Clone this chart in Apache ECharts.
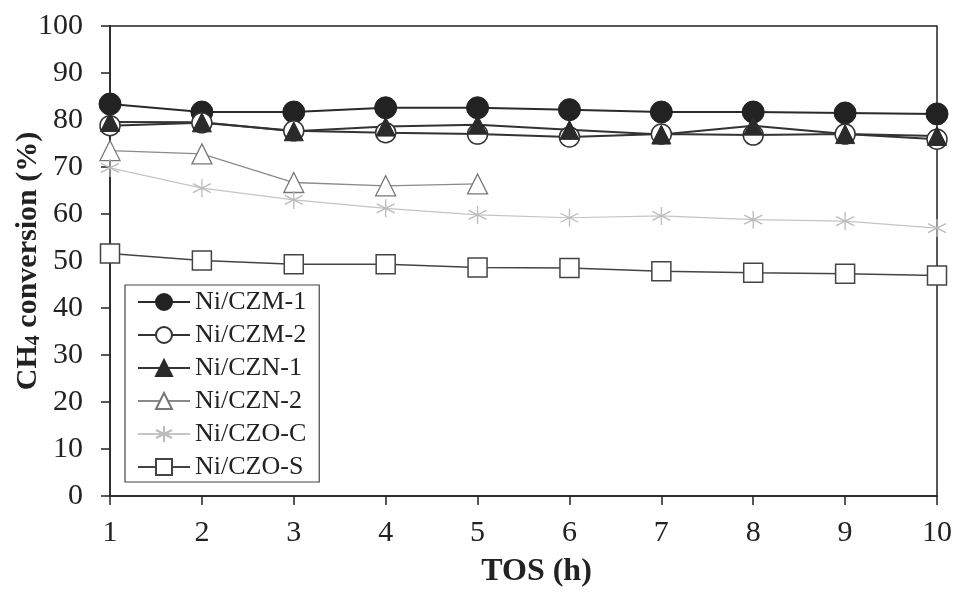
<!DOCTYPE html>
<html>
<head>
<meta charset="utf-8">
<script src="https://cdn.jsdelivr.net/npm/echarts@6/dist/echarts.min.js"></script>
<style>
  html, body { margin: 0; padding: 0; background: #fff; }
  #chart { width: 955px; height: 592px; }
</style>
</head>
<body>
<div id="chart"></div>
<script>
// time on stream (h)
var tos = [1, 2, 3, 4, 5, 6, 7, 8, 9, 10];
var yTicks = [0, 10, 20, 30, 40, 50, 60, 70, 80, 90, 100];

var czm1 = [83.4, 81.7, 81.7, 82.6, 82.6, 82.2, 81.7, 81.7, 81.5, 81.3];
var czm2 = [78.8, 79.4, 77.7, 77.3, 77.0, 76.4, 77.0, 76.8, 77.0, 75.9];
var czn1 = [79.6, 79.5, 77.6, 78.6, 79.0, 77.9, 76.9, 78.8, 77.0, 76.6];
var czn2 = [73.5, 72.8, 66.7, 66.0, 66.4];
var czoC = [69.8, 65.5, 63.0, 61.2, 59.8, 59.2, 59.6, 58.8, 58.5, 57.0];
var czoS = [51.6, 50.1, 49.3, 49.3, 48.6, 48.5, 47.8, 47.5, 47.3, 46.9];

var font = "'Liberation Serif', 'Times New Roman', Times, serif";
var asterisk = 'path://M10 0L10 20M1.3 5L18.7 15M1.3 15L18.7 5';

function pairs(vals) {
  return vals.map(function (v, i) { return [tos[i], v]; });
}

function series(name, vals, opt) {
  return {
    name: name,
    type: 'line',
    data: pairs(vals),
    symbol: opt.symbol,
    symbolSize: opt.size,
    showSymbol: true,
    lineStyle: { color: opt.line, width: opt.width },
    itemStyle: { color: opt.fill, borderColor: opt.border, borderWidth: opt.bw },
    emphasis: { disabled: true },
    animation: false
  };
}

var chart = echarts.init(document.getElementById('chart'));
chart.setOption({
  backgroundColor: '#fff',
  grid: {
    left: 110, right: 18, top: 26, bottom: 96,
    containLabel: false, outerBoundsMode: 'none',
    show: true, borderColor: '#222', borderWidth: 1.5, backgroundColor: 'transparent'
  },
  legend: {
    left: 125, top: 285,
    orient: 'vertical',
    itemWidth: 52, itemHeight: 20, itemGap: 7,
    padding: [4, 13, 2, 12],
    borderColor: '#444', borderWidth: 1.2,
    textStyle: { fontFamily: font, fontSize: 26, color: '#222' },
    data: ['Ni/CZM-1', 'Ni/CZM-2', 'Ni/CZN-1', 'Ni/CZN-2', 'Ni/CZO-C', 'Ni/CZO-S']
  },
  xAxis: {
    type: 'value', min: 1, max: 10, interval: 1,
    name: 'TOS (h)', nameLocation: 'middle', nameGap: 60,
    nameTextStyle: { fontFamily: font, fontSize: 32, fontWeight: 'bold', color: '#222', padding: [0, 0, 0, 26] },
    axisLine: { lineStyle: { color: '#222', width: 1.5 } },
    axisTick: { inside: false, length: 9, lineStyle: { color: '#222', width: 1.5 } },
    axisLabel: { margin: 22, fontFamily: font, fontSize: 30, color: '#222' },
    splitLine: { show: false }
  },
  yAxis: {
    type: 'value', min: yTicks[0], max: yTicks[yTicks.length - 1], interval: 10,
    name: '{a|CH}{b|4}{a| conversion (%)}', nameLocation: 'middle', nameGap: 66,
    nameMoveOverlap: false,
    nameTextStyle: {
      rich: {
        a: { fontFamily: font, fontSize: 30, fontWeight: 'bold', color: '#222' },
        b: { fontFamily: font, fontSize: 20, fontWeight: 'bold', color: '#222', verticalAlign: 'bottom', padding: [12, 0, 0, 0] }
      }
    },
    axisLine: { show: true, lineStyle: { color: '#222', width: 1.5 } },
    axisTick: { show: true, inside: false, length: 9, lineStyle: { color: '#222', width: 1.5 } },
    axisLabel: { margin: 27, fontFamily: font, fontSize: 30, color: '#222' },
    splitLine: { show: false }
  },
  series: [
    series('Ni/CZM-1', czm1, { symbol: 'circle', size: 22, line: '#2a2a2a', width: 2, fill: '#222', border: '#222', bw: 1 }),
    series('Ni/CZM-2', czm2, { symbol: 'circle', size: 20, line: '#333', width: 2, fill: '#fff', border: '#333', bw: 1.5 }),
    series('Ni/CZN-1', czn1, { symbol: 'triangle', size: 19, line: '#333', width: 2, fill: '#2a2a2a', border: '#2a2a2a', bw: 1 }),
    series('Ni/CZN-2', czn2, { symbol: 'triangle', size: 20, line: '#8a8a8a', width: 1.3, fill: '#fff', border: '#777', bw: 1.3 }),
    series('Ni/CZO-C', czoC, { symbol: asterisk, size: 18, line: '#c4c4c4', width: 1.2, fill: 'none', border: '#bbb', bw: 1.3 }),
    series('Ni/CZO-S', czoS, { symbol: 'rect', size: 19, line: '#444', width: 1.5, fill: '#fff', border: '#444', bw: 1.5 })
  ]
});
</script>
</body>
</html>
